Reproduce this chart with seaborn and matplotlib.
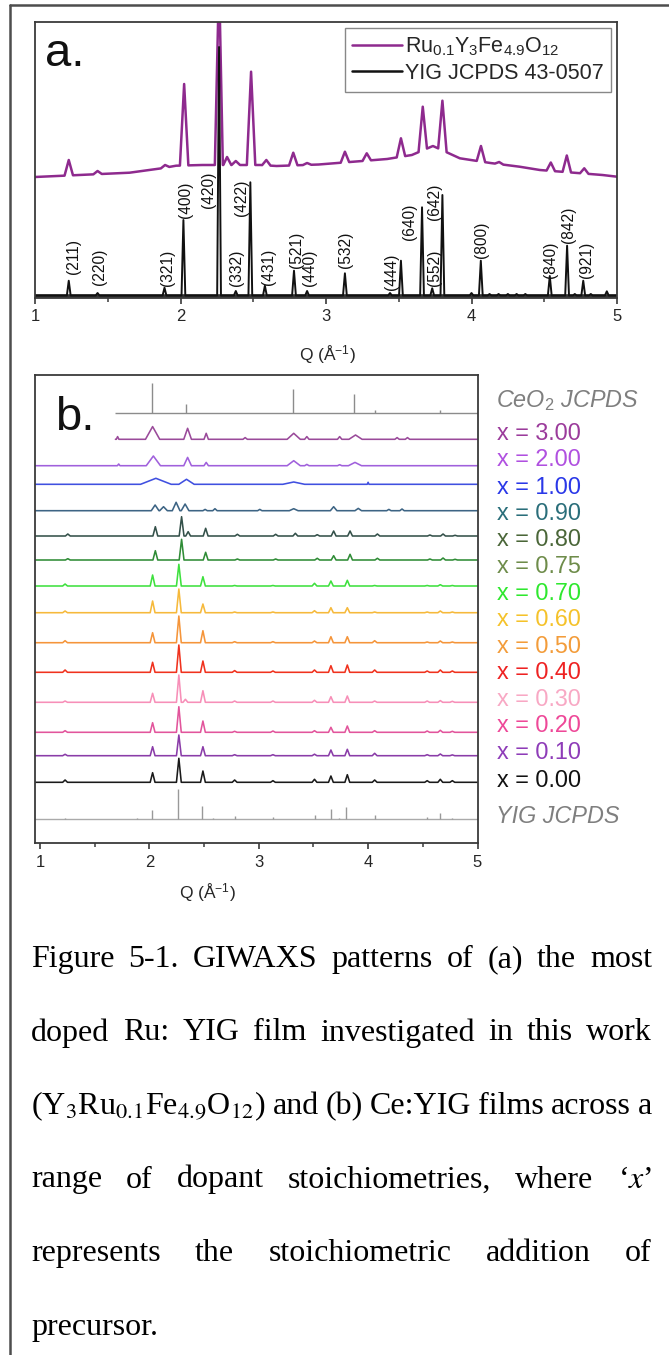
import matplotlib
matplotlib.use('Agg')
import matplotlib.pyplot as plt
from matplotlib.lines import Line2D
from matplotlib.ticker import MultipleLocator
import matplotlib.transforms as mtrans
import numpy as np
import pandas as pd
import seaborn as sns

sns.set_style('ticks')
plt.rcParams['font.family'] = ['Liberation Sans', 'DejaVu Sans']
plt.rcParams['mathtext.fontset'] = 'custom'
plt.rcParams['mathtext.rm'] = 'Liberation Sans'
plt.rcParams['mathtext.it'] = 'Liberation Sans:italic'
plt.rcParams['mathtext.bf'] = 'Liberation Sans:bold'

# ---------------- DATA ----------------
# Panel a: YIG JCPDS 43-0507 reference pattern (peak position Q, peak top intensity)
jcpds_q = [1.232, 1.43, 1.89, 2.02, 2.265, 2.38, 2.48, 2.58, 2.78, 2.87, 3.13, 3.44, 3.515,
           3.66, 3.73, 3.80, 4.00, 4.064, 4.124, 4.186, 4.25, 4.31, 4.37, 4.538, 4.657,
           4.71, 4.768, 4.82, 4.93]
jcpds_top = [1.68, 0.45, 0.98, 7.75, 25.05, 0.65, 11.52, 1.18, 2.68, 0.65, 2.42, 0.45, 3.68,
             9.02, 0.92, 10.25, 0.45, 3.68, 0.35, 0.35, 0.35, 0.35, 0.35, 2.15, 5.18,
             0.35, 1.68, 0.35, 0.62]
jcpds_base = 0.2

# Panel a: Ru0.1Y3Fe4.9O12 film
ru_base_q = [1.00, 1.65, 1.87, 1.97, 2.15, 2.43, 2.55, 2.66, 2.95, 3.19, 3.42, 3.59, 3.735,
             3.92, 4.13, 4.33, 4.47, 4.90, 5.00]
ru_base_y = [12.05, 12.48, 12.92, 13.18, 13.25, 13.25, 13.25, 13.15, 13.3, 13.58, 13.85, 14.25,
             15.15, 13.92, 13.45, 13.08, 12.75, 12.25, 12.08]
ru_q = [1.232, 1.43, 1.894, 2.025, 2.265, 2.32, 2.38, 2.485, 2.59, 2.775, 2.87, 3.13, 3.28,
        3.515, 3.665, 3.80, 4.065, 4.19, 4.545, 4.655, 4.775]
ru_top = [13.75, 12.65, 13.25, 21.35, 32.0, 14.05, 13.65, 22.58, 13.75, 14.48, 13.45, 14.58,
          14.42, 15.92, 19.08, 19.68, 15.15, 13.55, 13.5, 14.2, 12.92]

hkl_labels = ['(211)', '(220)', '(321)', '(400)', '(420)', '(332)', '(422)', '(431)', '(521)',
              '(440)', '(532)', '(444)', '(640)', '(552)', '(642)', '(800)', '(840)', '(842)',
              '(921)']

# Panel b: Ce:YIG films, peaks shared by the garnet-phase films
film_q = [1.23, 2.03, 2.27, 2.33, 2.49, 2.78, 3.13, 3.31, 3.51, 3.66, 3.81, 4.06, 4.54, 4.66, 4.77]
h_x000 = [0.23, 0.96, 2.40, 0, 1.13, 0.23, 0.16, 0, 0.30, 0.63, 0.76, 0.23, 0.16, 0.30, 0.16]
h_x010 = [0.14, 0.90, 2.07, 0, 0.90, 0.10, 0.10, 0, 0.15, 0.57, 0.64, 0.24, 0.10, 0.17, 0.08]
h_x020 = [0.16, 0.96, 2.56, 0, 1.13, 0.10, 0.13, 0, 0.16, 0.50, 0.63, 0.16, 0.13, 0.20, 0.10]
h_x030 = [0.13, 0.90, 2.73, 0.30, 1.16, 0.13, 0.13, 0, 0.20, 0.56, 0.63, 0.13, 0.13, 0.17, 0.10]
h_x040 = [0.23, 1.00, 2.73, 0, 1.13, 0.17, 0.13, 0, 0.23, 0.66, 0.73, 0.23, 0.13, 0.23, 0.13]
h_x050 = [0.20, 1.00, 2.67, 0, 1.20, 0.10, 0.10, 0, 0.17, 0.60, 0.60, 0.20, 0.07, 0.17, 0.07]
h_x060 = [0.17, 1.17, 2.37, 0, 0.87, 0.07, 0.07, 0, 0.20, 0.50, 0.50, 0.07, 0.07, 0.17, 0.07]
h_x070 = [0.20, 1.10, 2.17, 0, 0.93, 0.05, 0.05, 0, 0.27, 0.50, 0.57, 0.05, 0.05, 0.13, 0.05]
h_x075 = [0.13, 0.93, 2.07, 0, 0.77, 0.10, 0.10, 0, 0.17, 0.43, 0.57, 0.17, 0.10, 0.20, 0.07]
h_x080 = [0.20, 0.93, 1.93, 0.43, 0.77, 0.17, 0.17, 0.27, 0.13, 0.50, 0.50, 0.20, 0.10, 0.20, 0.07]
q_shift_x080 = 0.025
q_shift_x075 = 0.025

# Ce-rich films
q_x090 = [2.053, 2.13, 2.245, 2.327, 2.51, 2.60, 3.01, 3.32, 3.685, 3.91, 4.19, 4.31]
h_x090 = [0.57, 0.40, 0.84, 0.67, 0.13, 0.20, 0.13, 0.20, 0.40, 0.23, 0.13, 0.17]
w_x090 = [0.035, 0.035, 0.035, 0.035, 0.02, 0.02, 0.02, 0.04, 0.03, 0.03, 0.02, 0.02]
q_x100 = [2.06, 2.34, 3.32, 4.00]
h_x100 = [0.60, 0.50, 0.23, 0.20]
w_x100 = [0.14, 0.07, 0.10, 0.008]
q_x200 = [1.72, 2.037, 2.35, 2.52, 3.32, 3.44, 3.74, 3.88]
h_x200 = [0.17, 0.97, 0.83, 0.33, 0.50, 0.13, 0.10, 0.33]
w_x200 = [0.012, 0.065, 0.035, 0.02, 0.06, 0.02, 0.02, 0.06]
q_x300 = [1.71, 2.03, 2.35, 2.52, 2.876, 3.32, 3.44, 3.74, 3.885, 4.265, 4.36]
h_x300 = [0.27, 1.27, 1.10, 0.60, 0.17, 0.60, 0.27, 0.27, 0.43, 0.17, 0.17]
w_x300 = [0.012, 0.065, 0.035, 0.02, 0.02, 0.06, 0.02, 0.02, 0.06, 0.02, 0.02]

# CeO2 JCPDS sticks
ceo2_q = [2.022, 2.336, 3.31, 3.87, 4.06, 4.66]
ceo2_h = [3.0, 0.84, 2.37, 1.87, 0.27, 0.27]
yig_scale = 0.12   # YIG JCPDS sticks in (b) = panel-a JCPDS scaled

sample_x = ['3.00', '2.00', '1.00', '0.90', '0.80', '0.75', '0.70', '0.60', '0.50', '0.40',
            '0.30', '0.20', '0.10', '0.00']
offsets = [40.34, 37.70, 35.84, 33.20, 30.67, 28.27, 25.67, 23.00, 20.00, 17.04, 14.04, 11.04,
           8.70, 6.04]
ceo2_offset = 43.0
yig_offset = 2.34

# ---------------- STYLE ----------------
trace_colors = ['#9a4a9a', '#a060dc', '#4050e0', '#3d6484', '#34514a', '#2f8c36', '#3ee03e',
                '#f6b93b', '#f5953a', '#f0321e', '#f78fb8', '#e2559c', '#8a3ca8', '#1a1a1a']
label_colors = ['#9b3b9b', '#b050e0', '#2a38e8', '#2a6e7a', '#4a6638', '#6e8c4a', '#2ee82e',
                '#f5c22a', '#f39c3a', '#ee2222', '#f8a8c4', '#ee4898', '#8e3cb8', '#111111']
gray = '#8c8c8c'

W, H = 669, 1355
fig = plt.figure(figsize=(W / 100, H / 100), dpi=100)
fig.patch.set_facecolor('white')


def fx(px):
    return px / W


def fy(py):
    return 1 - py / H


axA = fig.add_axes([fx(35), fy(297.5), (617 - 35) / W, (297.5 - 22) / H])
axB = fig.add_axes([fx(35), fy(842.7), (477.5 - 35) / W, (842.7 - 375) / H])


def profile(peak_q, peak_h, hw, base_q, base_y):
    peak_q = np.asarray(peak_q, float)
    peak_h = np.asarray(peak_h, float)
    hw = np.broadcast_to(np.asarray(hw, float), peak_q.shape)
    keep = peak_h > 0
    pq, ph, pw = peak_q[keep], peak_h[keep], hw[keep]

    def base(x):
        return float(np.interp(x, base_q, base_y))

    pts = []
    for bq, by in zip(base_q, base_y):
        if not np.any(np.abs(bq - pq) < pw):
            pts.append((bq, by))
    for q, h, w in zip(pq, ph, pw):
        pts += [(q - w, base(q - w)), (q, base(q) + h), (q + w, base(q + w))]
    pts.sort()
    return pd.DataFrame(pts, columns=['Q', 'I'])


# ---------------- PANEL A ----------------
ru_h = np.array(ru_top) - np.interp(ru_q, ru_base_q, ru_base_y)
df_ru = profile(ru_q, ru_h, 0.029, ru_base_q, ru_base_y)
jc_h = np.array(jcpds_top) - jcpds_base
df_jc = profile(jcpds_q, jc_h, 0.013, [1.0, 5.0], [jcpds_base, jcpds_base])

sns.lineplot(data=df_ru, x='Q', y='I', ax=axA, color='#8e2a8e', lw=1.8, sort=False,
             estimator=None, label='Ru$_{0.1}$Y$_3$Fe$_{4.9}$O$_{12}$')
sns.lineplot(data=df_jc, x='Q', y='I', ax=axA, color='#111111', lw=1.4, sort=False,
             estimator=None, label='YIG JCPDS 43-0507')
axA.hlines(jcpds_base, 1.0, 5.0, color='#333333', lw=2.6, zorder=1.9)

hkl_x = [1.263, 1.44, 1.914, 2.036, 2.19, 2.386, 2.42, 2.608, 2.80, 2.89, 3.137, 3.447, 3.577,
         3.744, 3.744, 4.067, 4.54, 4.665, 4.79]
hkl_y = [4.08, 3.08, 2.95, 9.75, 10.8, 2.95, 9.95, 3.08, 4.75, 2.95, 4.75, 2.58, 7.58, 2.92,
         9.58, 5.75, 3.75, 7.25, 3.75]
for s, xq, yq in zip(hkl_labels, hkl_x, hkl_y):
    axA.text(xq, yq, s, rotation=90, ha='center', va='center', fontsize=11.2, color='#111111')

axA.set_xlim(1, 5)
axA.set_ylim(0, 27.55)
axA.set_yticks([])
axA.set_ylabel('')
axA.set_xticks([1, 2, 3, 4, 5])
axA.set_xticklabels(['1', '2', '3', '4', '5'])
axA.xaxis.set_minor_locator(MultipleLocator(0.5))
axA.set_xlabel('Q (Å$^{\\mathregular{-1}}$)', fontsize=12.5)
axA.xaxis.set_label_coords(0.502, -0.165)
axA.text(0.017, 0.84, 'a.', transform=axA.transAxes, fontsize=34, va='baseline', color='#111')

leg = axA.legend(loc='upper right', bbox_to_anchor=(0.99, 0.98), borderaxespad=0,
                 fontsize=15.5, frameon=True, fancybox=False, framealpha=1,
                 edgecolor='#888888', handlelength=2.3, handletextpad=0.15,
                 labelspacing=0.25, borderpad=0.35)
leg.get_frame().set_linewidth(1.0)
for ln in leg.get_lines():
    ln.set_linewidth(1.8)

# ---------------- PANEL B ----------------
film_h = [h_x080, h_x075, h_x070, h_x060, h_x050, h_x040, h_x030, h_x020, h_x010, h_x000]
film_shift = [q_shift_x080, q_shift_x075] + [0.0] * 8
film_idx = list(range(4, 14))
xlo, xhi = 0.955, 5.0

ce_sets = [(q_x300, h_x300, w_x300), (q_x200, h_x200, w_x200), (q_x100, h_x100, w_x100),
           (q_x090, h_x090, w_x090)]
for i in range(4):
    q, h, w = ce_sets[i]
    start = 1.69 if i == 0 else xlo
    df = profile(q, h, w, [start, xhi], [offsets[i], offsets[i]])
    sns.lineplot(data=df, x='Q', y='I', ax=axB, color=trace_colors[i], lw=1.15, sort=False,
                 estimator=None)

for k, i in enumerate(film_idx):
    q = np.array(film_q) + film_shift[k]
    df = profile(q, film_h[k], 0.022, [xlo, xhi], [offsets[i], offsets[i]])
    sns.lineplot(data=df, x='Q', y='I', ax=axB, color=trace_colors[i], lw=1.15, sort=False,
                 estimator=None)

# CeO2 JCPDS sticks
axB.hlines(ceo2_offset, 1.69, xhi, color=gray, lw=1.0)
axB.vlines(ceo2_q, ceo2_offset, ceo2_offset + np.array(ceo2_h), color=gray, lw=1.0)
# YIG JCPDS sticks
axB.hlines(yig_offset, xlo, xhi, color='#aaaaaa', lw=1.0)
axB.vlines(jcpds_q, yig_offset, yig_offset + jc_h * yig_scale, color='#999999', lw=1.0)

axB.set_xlim(xlo, xhi)
axB.set_ylim(0, 46.77)
axB.set_yticks([])
axB.set_ylabel('')
axB.set_xticks([1, 2, 3, 4, 5])
axB.set_xticklabels(['1', '2', '3', '4', '5'])
axB.xaxis.set_minor_locator(MultipleLocator(0.5))
axB.set_xlabel('Q (Å$^{\\mathregular{-1}}$)', fontsize=12.5)
axB.xaxis.set_label_coords(0.389, -0.083)
axB.text(0.045, 0.882, 'b.', transform=axB.transAxes, fontsize=34, va='baseline', color='#111')

tr = mtrans.blended_transform_factory(axB.transAxes, axB.transData)
label_px = [434, 460, 487, 513.5, 540, 566.5, 593.5, 620, 646.5, 672.5, 699, 725.5, 752.5, 780.5]
for s, c, py in zip(sample_x, label_colors, label_px):
    axB.text(1.044, (842.7 - py) / 10, 'x = ' + s, transform=tr, color=c, fontsize=16.8,
             ha='left', va='center')
axB.text(1.041, (842.7 - 401) / 10, 'CeO$_\\mathit{2}$ JCPDS', transform=tr, color='#7f7f7f',
         fontsize=16.8, style='italic', ha='left', va='center')
axB.text(1.041, (842.7 - 816.5) / 10, 'YIG JCPDS', transform=tr, color='#7f7f7f',
         fontsize=16.8, style='italic', ha='left', va='center')

for ax in (axA, axB):
    for sp in ax.spines.values():
        sp.set_linewidth(1.3)
        sp.set_color('#3a3a3a')
        sp.set_visible(True)
    ax.tick_params(axis='x', which='major', direction='out', length=4.5, width=1.2,
                   labelsize=12, pad=4, color='#3a3a3a')
    ax.tick_params(axis='x', which='minor', direction='out', length=3.2, width=1.1,
                   color='#3a3a3a')
    ax.set_facecolor('white')

# ---------------- page border ----------------
fig.add_artist(Line2D([fx(9.5), 1.0], [fy(5), fy(5)], transform=fig.transFigure,
                      color='#4d4d4d', lw=1.8))
fig.add_artist(Line2D([fx(9.5), fx(9.5)], [fy(5), 0.0], transform=fig.transFigure,
                      color='#4d4d4d', lw=1.8))

# ---------------- caption (justified) ----------------
cap_lines = [
    'Figure 5-1. GIWAXS patterns of (a) the most',
    'doped Ru: YIG film investigated in this work',
    '(Y$_3$Ru$_{0.1}$Fe$_{4.9}$O$_{12}$) and (b) Ce:YIG films across a',
    'range of dopant stoichiometries, where ‘$x$’',
    'represents the stoichiometric addition of',
    'precursor.',
]
cap_x0, cap_x1 = 31, 652
cap_base0, cap_step = 967, 73.5
cap_kw = dict(fontfamily='Liberation Serif', fontsize=23, color='#000000', va='baseline',
              ha='left', math_fontfamily='stix')
fig.canvas.draw()
renderer = fig.canvas.get_renderer()
for li, line in enumerate(cap_lines):
    words = line.split(' ')
    ypos = fy(cap_base0 + li * cap_step)
    texts = [fig.text(0, ypos, w, **cap_kw) for w in words]
    widths = [t.get_window_extent(renderer=renderer).width for t in texts]
    if len(words) == 1:
        gap = 0
    else:
        gap = (cap_x1 - cap_x0 - sum(widths)) / (len(words) - 1)
    xpos = cap_x0
    for t, w in zip(texts, widths):
        t.set_x(fx(xpos))
        xpos += w + gap

fig.savefig('out.png', dpi=100, facecolor='white')
